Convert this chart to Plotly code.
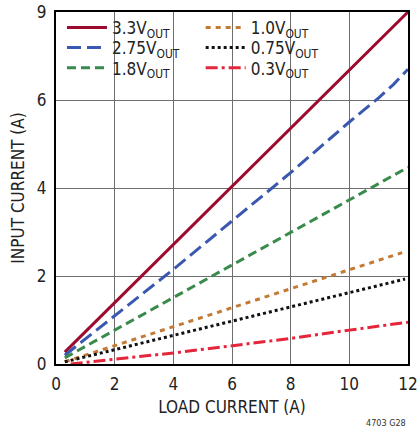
import plotly.graph_objects as go

# Data (y values in axis units where top gridline = 8, labelled "9")
x_33 = [0.3, 12]
y_33 = [0.27, 8.0]
x_275 = [0.3, 2, 4, 6, 8, 10, 11, 11.5, 12]
y_275 = [0.2, 1.1, 2.15, 3.25, 4.35, 5.5, 6.05, 6.35, 6.7]
x_18 = [0.3, 12]
y_18 = [0.14, 4.47]
x_10 = [0.3, 11.8]
y_10 = [0.05, 2.53]
x_075 = [0.3, 11.9]
y_075 = [0.05, 1.93]
x_03 = [0.5, 1, 2, 4, 6, 8, 10, 12]
y_03 = [0.0, 0.04, 0.11, 0.25, 0.41, 0.58, 0.77, 0.95]

y_tickvals = [0, 2, 4, 6, 8]
y_ticktext = ["0", "2", "4", "6", "9"]
x_tickvals = [0, 2, 4, 6, 8, 10, 12]

FONT = "DejaVu Sans Condensed, Liberation Sans Narrow, sans-serif"

# name, x, y, colour, dash, legend id
series = [
    ("3.3V<sub>OUT</sub>", x_33, y_33, "#9c0b2e", "solid", "legend"),
    ("2.75V<sub>OUT</sub>", x_275, y_275, "#3b58b0", "14px,6px", "legend2"),
    ("1.8V<sub>OUT</sub>", x_18, y_18, "#3a8a4c", "9px,5px", "legend3"),
    ("1.0V<sub>OUT</sub>", x_10, y_10, "#c27a35", "5px,5px", "legend4"),
    ("0.75V<sub>OUT</sub>", x_075, y_075, "#111111", "dot", "legend5"),
    ("0.3V<sub>OUT</sub>", x_03, y_03, "#e3263a", "12px,4px,3px,4px", "legend6"),
]

fig = go.Figure()
for name, xs, ys, col, dash, lg in series:
    fig.add_trace(go.Scatter(x=xs, y=ys, mode="lines", name=name, legend=lg,
                             showlegend=True,
                             line=dict(color=col, width=3, dash=dash)))

legend_common = dict(orientation="v", yanchor="middle", xanchor="left",
                     bgcolor="rgba(0,0,0,0)", borderwidth=0,
                     font=dict(family=FONT, size=17, color="#222"),
                     itemwidth=40, tracegroupgap=0)
col_x = [0.017, 0.411]
row_y = [0.955, 0.898, 0.840]

fig.update_layout(
    width=417, height=430, showlegend=True,
    margin=dict(l=56, r=9, t=12, b=66, autoexpand=False),
    paper_bgcolor="white", plot_bgcolor="white",
    font=dict(family=FONT, size=17, color="#222"),
    legend=dict(x=col_x[0], y=row_y[0], **legend_common),
    legend2=dict(x=col_x[0], y=row_y[1], **legend_common),
    legend3=dict(x=col_x[0], y=row_y[2], **legend_common),
    legend4=dict(x=col_x[1], y=row_y[0], **legend_common),
    legend5=dict(x=col_x[1], y=row_y[1], **legend_common),
    legend6=dict(x=col_x[1], y=row_y[2], **legend_common),
    shapes=[dict(type="rect", xref="paper", yref="paper", x0=0.0, x1=0.69,
                 y0=0.807, y1=0.977, fillcolor="white", line=dict(width=0),
                 layer="between")],
    xaxis=dict(range=[0, 12], tickvals=x_tickvals, showgrid=True, automargin=False,
               gridcolor="#6e6e6e", gridwidth=1.3, zeroline=False,
               showline=True, linecolor="black", linewidth=2, mirror=True,
               ticks="", tickfont=dict(size=17), ticklabelstandoff=4,
               ticklabeloverflow="allow",
               title=dict(text="LOAD CURRENT (A)", font=dict(size=17), standoff=8)),
    yaxis=dict(range=[0, 8], tickvals=y_tickvals, ticktext=y_ticktext, showgrid=True,
               automargin=False,
               gridcolor="#6e6e6e", gridwidth=1.3, zeroline=False,
               showline=True, linecolor="black", linewidth=2, mirror=True,
               ticks="", tickfont=dict(size=17), ticklabelstandoff=4,
               ticklabeloverflow="allow",
               title=dict(text="INPUT CURRENT (A)", font=dict(size=17), standoff=8)),
    annotations=[dict(text="4703 G28", x=1.0, y=-0.168, xref="paper", yref="paper",
                      xanchor="right", yanchor="middle", showarrow=False,
                      font=dict(size=9, color="#333", family=FONT))],
)

fig.write_html("out.html", config={"displayModeBar": False},
               post_script="document.body.style.margin='0';document.body.style.overflow='hidden';")
